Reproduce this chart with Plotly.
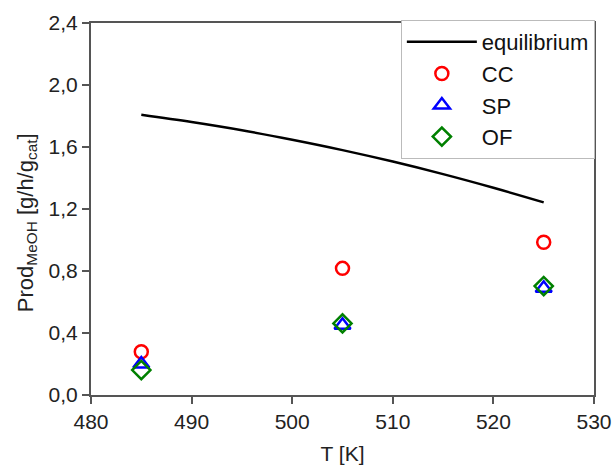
import plotly.graph_objects as go

# equilibrium curve
eq_T = [485, 490, 495, 500, 505, 510, 515, 520, 525]
eq_prod = [1.808, 1.761, 1.708, 1.647, 1.58, 1.506, 1.425, 1.337, 1.243]

# measured points
T_pts = [485, 505, 525]
cc = [0.279, 0.817, 0.985]
sp = [0.20, 0.45, 0.688]
of = [0.161, 0.462, 0.703]

x_ticks = [480, 490, 500, 510, 520, 530]
y_ticks = [0.0, 0.4, 0.8, 1.2, 1.6, 2.0, 2.4]
y_ticktext = ["0,0", "0,4", "0,8", "1,2", "1,6", "2,0", "2,4"]

FONT = "Liberation Sans, Arial, sans-serif"

fig = go.Figure()
fig.add_trace(go.Scatter(x=eq_T, y=eq_prod, mode="lines", name="equilibrium",
                         line=dict(color="black", width=2.5, shape="spline")))
fig.add_trace(go.Scatter(x=T_pts, y=cc, mode="markers", name="CC",
                         marker=dict(symbol="circle-open", size=13, color="red",
                                     line=dict(width=2.5, color="red"))))
fig.add_trace(go.Scatter(x=T_pts, y=sp, mode="markers", name="SP",
                         marker=dict(symbol="triangle-up-open", size=14, color="blue",
                                     line=dict(width=2.5, color="blue"))))
fig.add_trace(go.Scatter(x=T_pts, y=of, mode="markers", name="OF",
                         marker=dict(symbol="diamond-open", size=14, color="#008000",
                                     line=dict(width=2.5, color="#008000"))))

axis_common = dict(showline=True, linecolor="#555555", linewidth=2, mirror=True,
                   ticks="outside", ticklen=7, tickwidth=1.5, tickcolor="#555555",
                   showgrid=False, zeroline=False, automargin=False,
                   ticklabeloverflow="allow",
                   tickfont=dict(family=FONT, size=21, color="#222222"))

fig.update_xaxes(range=[480, 530], tickvals=x_ticks,
                 title=dict(text="T [K]", font=dict(family=FONT, size=21, color="#222222"),
                            standoff=14),
                 **axis_common)
fig.update_yaxes(range=[0, 2.4], tickvals=y_ticks, ticktext=y_ticktext, **axis_common)

fig.add_annotation(text="Prod<sub>MeOH</sub> [g/h/g<sub>cat</sub>]",
                   xref="paper", yref="paper", x=0, y=0.462, xshift=-64,
                   xanchor="center", yanchor="middle", textangle=-90, showarrow=False,
                   font=dict(family=FONT, size=22, color="#222222"))

fig.update_layout(
    width=614, height=467,
    margin=dict(l=91, r=20, t=23, b=72),
    paper_bgcolor="white", plot_bgcolor="white",
    showlegend=True,
    legend=dict(x=0.616, y=1.008, xanchor="left", yanchor="top",
                bgcolor="white", bordercolor="#bbbbbb", borderwidth=1,
                font=dict(family=FONT, size=22, color="#111111"),
                tracegroupgap=0, itemwidth=70),
)

fig.write_html("out.html")
